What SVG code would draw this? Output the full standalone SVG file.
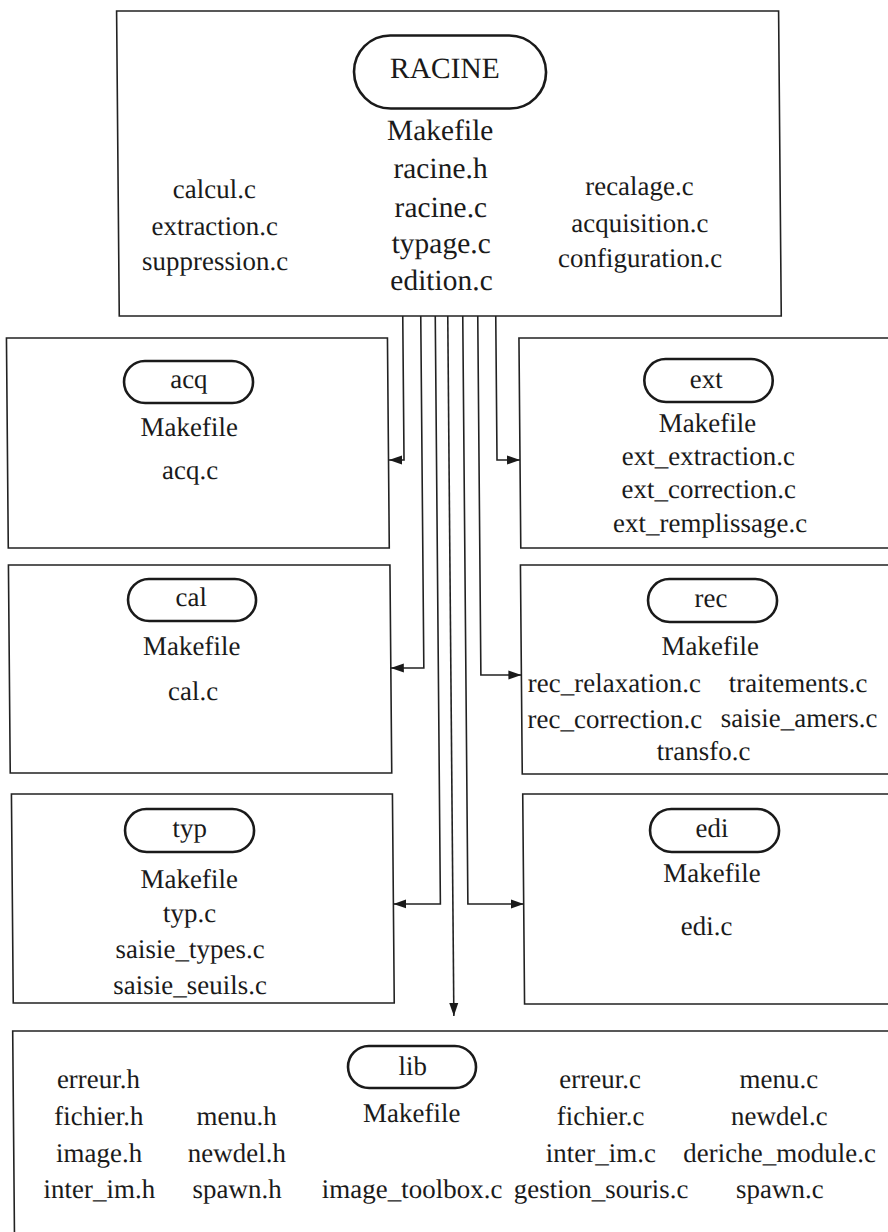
<svg xmlns="http://www.w3.org/2000/svg" width="888" height="1232" viewBox="0 0 888 1232">
<style>
.box{fill:none;stroke:#222;stroke-width:1.6}
.pill{fill:none;stroke:#1a1a1a;stroke-width:2.6}
.t{font-family:"Liberation Serif","Times New Roman",serif;font-size:27px;fill:#1a1a1a;text-anchor:middle}
.big{font-size:29.5px}
.c{fill:none;stroke:#222;stroke-width:1.6}
</style>
<defs>
<marker id="ah" markerUnits="userSpaceOnUse" markerWidth="14" markerHeight="10" refX="13" refY="5" orient="auto">
<path d="M0,0.5 L13,5 L0,9.5 Z" fill="#1a1a1a"/>
</marker>
</defs>
<rect width="888" height="1232" fill="#fff"/>
<g transform="skewX(0.5)">
<g id="racine">
<rect class="box" x="116.5" y="11" width="662" height="305"/>
<rect class="pill" x="353.4" y="35.5" width="192" height="73" rx="36.5"/>
<text class="t big" x="444.3" y="78">RACINE</text>
<text class="t big" x="439" y="140">Makefile</text>
<text class="t big" x="439" y="178">racine.h</text>
<text class="t big" x="439" y="217">racine.c</text>
<text class="t big" x="439" y="253">typage.c</text>
<text class="t big" x="439" y="290">edition.c</text>
<text class="t" x="212.7" y="198">calcul.c</text>
<text class="t" x="212.7" y="235">extraction.c</text>
<text class="t" x="212.7" y="270">suppression.c</text>
<text class="t" x="637.8" y="195">recalage.c</text>
<text class="t" x="637.8" y="232">acquisition.c</text>
<text class="t" x="637.8" y="267">configuration.c</text>
</g>
<g id="acq">
<rect class="box" x="3.5" y="338" width="381" height="210"/>
<rect class="pill" x="120.7" y="361" width="129" height="42" rx="21"/>
<text class="t" x="185.5" y="388">acq</text>
<text class="t" x="185.5" y="436">Makefile</text>
<text class="t" x="186" y="479">acq.c</text>
</g>
<g id="cal">
<rect class="box" x="3.5" y="565" width="381.5" height="208"/>
<rect class="pill" x="122.8" y="579" width="128" height="42" rx="21"/>
<text class="t" x="186" y="606">cal</text>
<text class="t" x="186" y="655">Makefile</text>
<text class="t" x="187" y="700">cal.c</text>
</g>
<g id="typ">
<rect class="box" x="4.5" y="794" width="381" height="209"/>
<rect class="pill" x="117.8" y="809" width="129" height="43" rx="21.5"/>
<text class="t" x="182.5" y="837">typ</text>
<text class="t" x="181.5" y="888">Makefile</text>
<text class="t" x="181.7" y="922">typ.c</text>
<text class="t" x="181.7" y="958">saisie_types.c</text>
<text class="t" x="181.4" y="994">saisie_seuils.c</text>
</g>
<g id="ext">
<rect class="box" x="516" y="338" width="400" height="210"/>
<rect class="pill" x="641" y="359" width="128.4" height="43" rx="21.5"/>
<text class="t" x="703" y="388">ext</text>
<text class="t" x="703.7" y="432">Makefile</text>
<text class="t" x="704.3" y="465">ext_extraction.c</text>
<text class="t" x="704.4" y="498">ext_correction.c</text>
<text class="t" x="705.4" y="532">ext_remplissage.c</text>
</g>
<g id="rec">
<rect class="box" x="515.5" y="565" width="400" height="209"/>
<rect class="pill" x="642.8" y="579" width="129" height="43" rx="21.5"/>
<text class="t" x="705.8" y="607">rec</text>
<text class="t" x="704.6" y="655">Makefile</text>
<text class="t" x="608.3" y="692">rec_relaxation.c</text>
<text class="t" x="792" y="692">traitements.c</text>
<text class="t" x="608.5" y="728">rec_correction.c</text>
<text class="t" x="792.7" y="727">saisie_amers.c</text>
<text class="t" x="697" y="760">transfo.c</text>
</g>
<g id="edi">
<rect class="box" x="515.8" y="794" width="400" height="210"/>
<rect class="pill" x="642.8" y="809" width="129" height="43" rx="21.5"/>
<text class="t" x="704.7" y="837">edi</text>
<text class="t" x="704.3" y="882">Makefile</text>
<text class="t" x="698.4" y="935">edi.c</text>
</g>
<g id="lib">
<rect class="box" x="3.7" y="1031" width="920" height="260"/>
<rect class="pill" x="338.7" y="1046" width="128" height="42" rx="21"/>
<text class="t" x="403.3" y="1075">lib</text>
<text class="t" x="402" y="1122">Makefile</text>
<text class="t" x="401.6" y="1198">image_toolbox.c</text>
<text class="t" x="89" y="1088">erreur.h</text>
<text class="t" x="89" y="1125">fichier.h</text>
<text class="t" x="89" y="1162">image.h</text>
<text class="t" x="89" y="1198">inter_im.h</text>
<text class="t" x="226.7" y="1125">menu.h</text>
<text class="t" x="226.7" y="1162">newdel.h</text>
<text class="t" x="226.7" y="1198">spawn.h</text>
<text class="t" x="590.7" y="1088">erreur.c</text>
<text class="t" x="590.7" y="1125">fichier.c</text>
<text class="t" x="590.7" y="1162">inter_im.c</text>
<text class="t" x="590.7" y="1198">gestion_souris.c</text>
<text class="t" x="769.5" y="1088">menu.c</text>
<text class="t" x="769.5" y="1125">newdel.c</text>
<text class="t" x="769.5" y="1162">deriche_module.c</text>
<text class="t" x="769.5" y="1198">spawn.c</text>
</g>
<g id="connectors">
<polyline class="c" points="400,316 400,460 385,460" marker-end="url(#ah)"/>
<polyline class="c" points="418,316 418,668 385,668" marker-end="url(#ah)"/>
<polyline class="c" points="432.5,316 432.5,904 385.5,904" marker-end="url(#ah)"/>
<polyline class="c" points="445,316 445,1016" marker-end="url(#ah)"/>
<polyline class="c" points="460,316 460,904 515.8,904" marker-end="url(#ah)"/>
<polyline class="c" points="475,316 475,675 515.5,675" marker-end="url(#ah)"/>
<polyline class="c" points="493,316 493,460 516,460" marker-end="url(#ah)"/>
</g>
</g>
</svg>
